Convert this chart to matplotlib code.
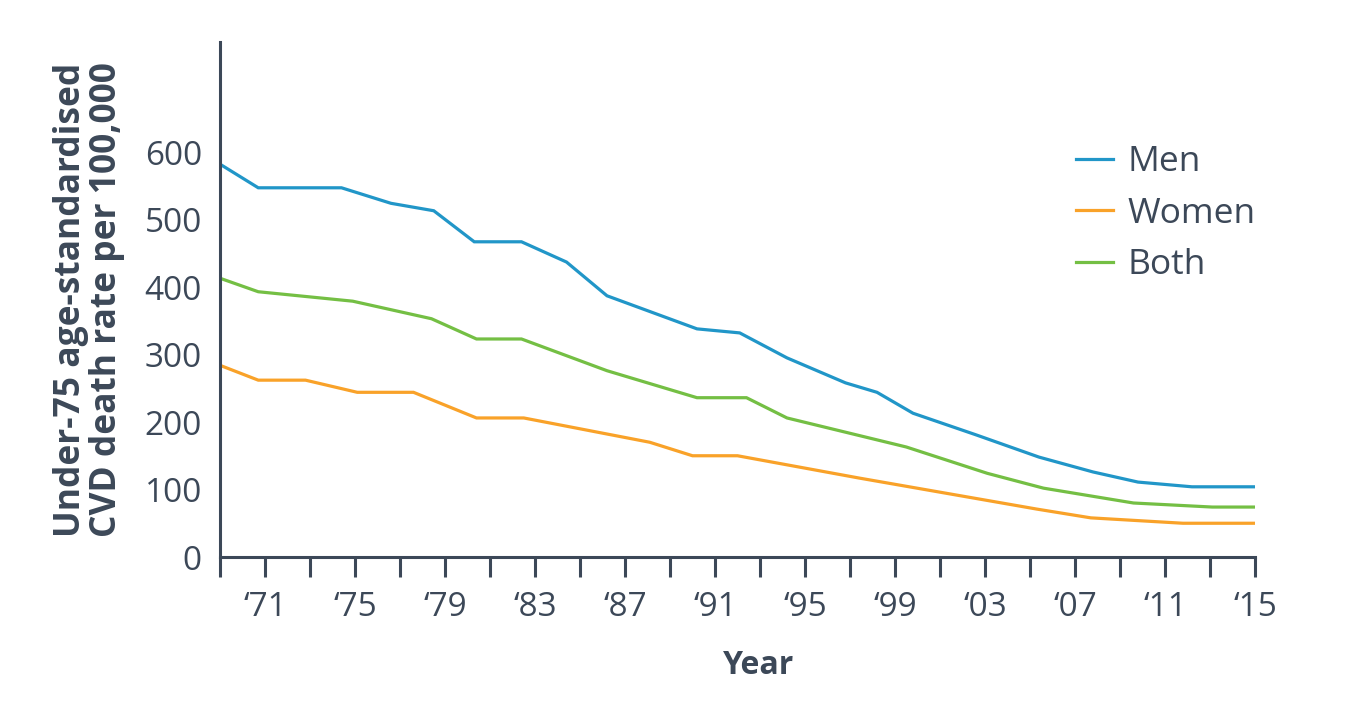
import matplotlib
matplotlib.use("Agg")
import matplotlib.pyplot as plt
from matplotlib.ticker import FixedLocator

plt.rcParams['font.family'] = ['Open Sans', 'DejaVu Sans']

years_men = [1969.0, 1970.7, 1974.4, 1976.6, 1978.5, 1980.3, 1982.4, 1984.4, 1986.2,
             1990.2, 1992.1, 1994.2, 1996.8, 1998.2, 1999.8, 2002.6, 2005.4, 2007.8,
             2009.8, 2012.2, 2015.0]
men = [582, 547, 547, 524, 513, 467, 467, 437, 387,
       338, 332, 295, 258, 244, 213, 181, 148, 126,
       111, 104, 104]

years_women = [1969.0, 1970.7, 1972.8, 1975.1, 1977.6, 1980.4, 1982.5, 1988.1,
               1990.0, 1992.0, 1997.4, 2005.3, 2007.7, 2011.8, 2015.0]
women = [284, 262, 262, 244, 244, 206, 206, 170,
         150, 150, 117, 71, 58, 50, 50]

years_both = [1969.0, 1970.7, 1974.9, 1978.4, 1980.4, 1982.4, 1986.2, 1990.2,
              1992.4, 1994.2, 1999.5, 2003.1, 2005.6, 2009.6, 2013.1, 2015.0]
both = [413, 393, 379, 353, 323, 323, 276, 236,
        236, 206, 163, 124, 102, 80, 74, 74]

series_names = ["Men", "Women", "Both"]
series_colors = ["#2196c8", "#f9a229", "#74bf44"]

tick_years = list(range(1969, 2016, 2))
label_years = list(range(1971, 2016, 4))
label_texts = ["\u2018" + str(y)[-2:] for y in label_years]
y_ticks = [0, 100, 200, 300, 400, 500, 600]

txt = "#3c4858"

fig = plt.figure(figsize=(13.58, 7.15), dpi=100)
ax = fig.add_axes([220/1358, 1 - 557/715, (1255-220)/1358, (557-42)/715])

for xs, ys, name, c in zip([years_men, years_women, years_both],
                           [men, women, both], series_names, series_colors):
    ax.plot(xs, ys, color=c, lw=2.3, label=name, solid_joinstyle='miter')

ax.set_xlim(1969, 2015)
ax.set_ylim(0, 763)

ax.xaxis.set_major_locator(FixedLocator(label_years))
ax.set_xticklabels(label_texts)
ax.xaxis.set_minor_locator(FixedLocator(tick_years))
ax.tick_params(axis='x', which='both', direction='out', length=14.5, width=2.2,
               color=txt)
ax.tick_params(axis='x', which='major', labelsize=24, labelcolor=txt, pad=10)
ax.set_yticks(y_ticks)
ax.tick_params(axis='y', length=0, labelsize=24, labelcolor=txt, pad=13)

for s in ['top', 'right']:
    ax.spines[s].set_visible(False)
for s in ['left', 'bottom']:
    ax.spines[s].set_color(txt)
    ax.spines[s].set_linewidth(2.2)

ax.set_ylabel("Under-75 age-standardised\nCVD death rate per 100,000",
              fontsize=25.5, fontweight='bold', color=txt, labelpad=14,
              linespacing=1.0)
ax.set_xlabel("Year", fontsize=23, fontweight='bold', color=txt)
ax.xaxis.set_label_coords((759 - 220) / 1035, -(666 - 557) / 515)
ax.xaxis.label.set_va('center')

leg = ax.legend(loc='upper left', bbox_to_anchor=(1076/1358, 1 - 145/715),
                bbox_transform=fig.transFigure, frameon=False, fontsize=25.5,
                handlelength=1.05, handletextpad=0.4, labelspacing=0.5,
                borderpad=0, borderaxespad=0)
for t in leg.get_texts():
    t.set_color(txt)

fig.savefig("out.png", dpi=100)
